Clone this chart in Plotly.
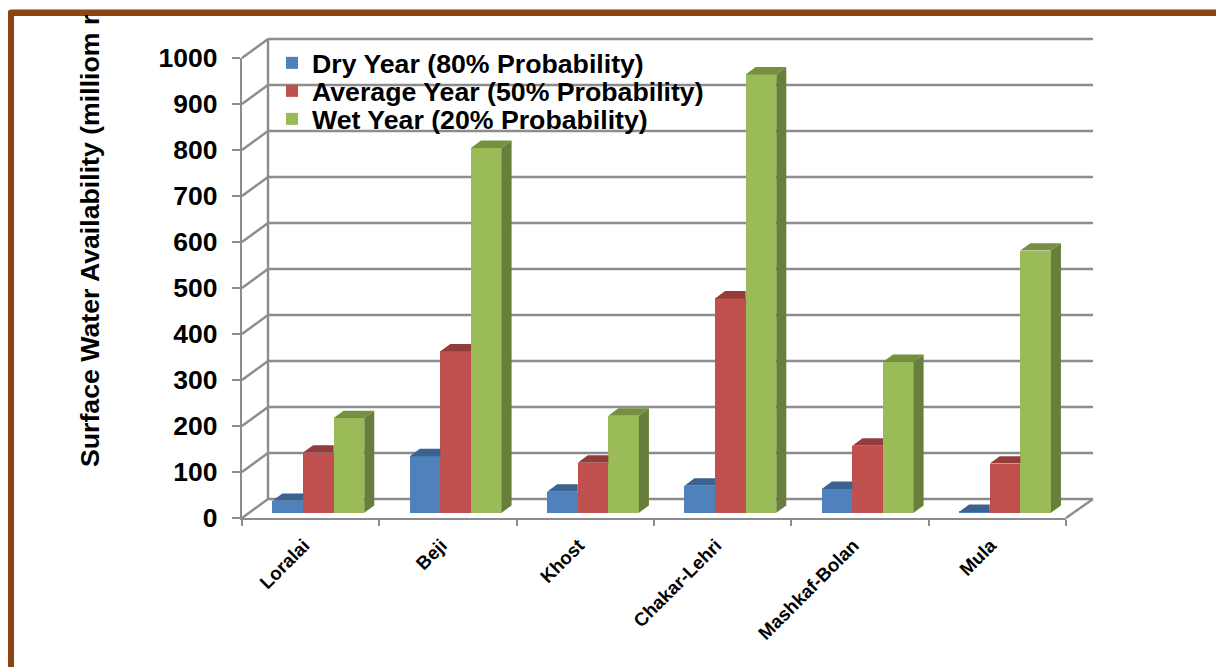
import plotly.graph_objects as go

categories = ["Loralai", "Beji", "Khost", "Chakar-Lehri", "Mashkaf-Bolan", "Mula"]
dry_year = [26, 123, 46, 59, 52, 2]
average_year = [131, 351, 109, 466, 146, 107]
wet_year = [206, 793, 211, 953, 328, 570]
y_ticks = list(range(0, 1001, 100))

W, H = 1216, 667
FONT = "Liberation Sans"

series = [
    ("Dry Year (80% Probability)", dry_year, "#4F81BD", "#3B6291", "#3B6291", "legend", 39),
    ("Average Year (50% Probability)", average_year, "#C0504D", "#943C3A", "#943C3A", "legend2", 67),
    ("Wet Year (20% Probability)", wet_year, "#9BBB59", "#768F41", "#677F3A", "legend3", 95),
]

# pixel geometry of the pseudo-3D frame
FRONT_L, FRONT_R, FRONT_0, FRONT_1000 = 242.0, 1066.0, 518.0, 58.0
BACK_L, BACK_R, BACK_0 = 268.0, 1093.0, 499.0
BAR_0 = 512.8
PX_PER_UNIT_Y = (FRONT_0 - FRONT_1000) / 1000.0
PX_PER_CAT = (FRONT_R - FRONT_L) / 6.0
CAT0_PX = FRONT_L + PX_PER_CAT / 2.0

# hidden overlay axes span the full page; bars are placed in data units
x2_range = [(0 - CAT0_PX) / PX_PER_CAT, (W - CAT0_PX) / PX_PER_CAT]
y2_range = [-(H - BAR_0) / PX_PER_UNIT_Y, BAR_0 / PX_PER_UNIT_Y]


def xu(px):
    return (px - CAT0_PX) / PX_PER_CAT


def yu(px_offset_above_bar_base):
    return px_offset_above_bar_base / PX_PER_UNIT_Y


BAR_W = 30.6 / PX_PER_CAT
GROUP_SHIFT = 7.7 / PX_PER_CAT
DX = 10.0 / PX_PER_CAT
DY = yu(7.4)
LABEL_SHIFT = -6.5 / PX_PER_CAT

fig = go.Figure()
# anchor trace for the visible axes
fig.add_trace(go.Scatter(x=[0], y=[0], mode="markers", marker=dict(opacity=0),
                         showlegend=False, hoverinfo="skip", xaxis="x", yaxis="y"))

for s, (name, vals, col, top, side, leg, _) in enumerate(series):
    xs = [i + GROUP_SHIFT + (s - 1) * BAR_W for i in range(len(categories))]
    fig.add_trace(go.Bar(x=xs, y=vals, width=BAR_W, name=name, legend=leg,
                         marker=dict(color=col, line=dict(width=0)),
                         xaxis="x2", yaxis="y2"))

for s, (name, vals, col, top, side, leg, _) in enumerate(series):
    nxt = series[s + 1][1] if s + 1 < len(series) else None
    for i, v in enumerate(vals):
        xc = i + GROUP_SHIFT + (s - 1) * BAR_W
        x0, x1 = xc - BAR_W / 2, xc + BAR_W / 2
        if nxt is not None and nxt[i] >= v:
            px, py = [x0, x1, x1, x0 + DX, x0], [v, v, v + DY, v + DY, v]
        else:
            px, py = [x0, x1, x1 + DX, x0 + DX, x0], [v, v, v + DY, v + DY, v]
        fig.add_trace(go.Scatter(x=px, y=py, fill="toself", fillcolor=top, mode="lines",
                                 line=dict(width=0, color=top), showlegend=False, hoverinfo="skip",
                                 xaxis="x2", yaxis="y2"))
        if nxt is None:
            fig.add_trace(go.Scatter(x=[x1, x1 + DX, x1 + DX, x1, x1], y=[0, DY, v + DY, v, 0],
                                     fill="toself", fillcolor=side, mode="lines",
                                     line=dict(width=0, color=side), showlegend=False, hoverinfo="skip",
                                     xaxis="x2", yaxis="y2"))

GRID = "#8C8C8C"
shapes = []


def seg(x0, y0, x1, y1):
    shapes.append(dict(type="line", xref="x2", yref="y2", x0=x0, y0=y0, x1=x1, y1=y1,
                       line=dict(color=GRID, width=2.4), layer="below"))


back_off = yu(BAR_0 - BACK_0)
front_off = yu(BAR_0 - FRONT_0)
for t in y_ticks:
    seg(xu(BACK_L), t + back_off, xu(BACK_R), t + back_off)
    seg(xu(FRONT_L), t + front_off, xu(BACK_L), t + back_off)
seg(xu(BACK_L), back_off, xu(BACK_L), 1000 + back_off)
seg(xu(FRONT_R), front_off, xu(BACK_R), back_off)

# brown frame
BROWN = "#8A4510"
shapes.append(dict(type="path", xref="paper", yref="paper",
                   path=f"M {8/W} {1-668/H} L {8/W} {1-12/H} Q {8/W} {1-9.5/H} {11/W} {1-9.5/H} "
                        f"L {1217/W} {1-9.5/H} L {1217/W} {1-16/H} L {14/W} {1-16/H} L {14/W} {1-668/H} Z",
                   fillcolor=BROWN, line=dict(width=0), layer="above"))

bold = dict(family=FONT, color="black", weight=700)


def legend_at(top_px):
    return dict(x=272 / W, y=1 - top_px / H, xanchor="left", yanchor="top", bgcolor="rgba(0,0,0,0)",
                font=dict(size=26.7, **bold), itemclick=False, itemdoubleclick=False)


fig.update_layout(
    width=W, height=H, autosize=False,
    margin=dict(l=0, r=0, t=0, b=0, pad=0, autoexpand=False),
    paper_bgcolor="white", plot_bgcolor="rgba(0,0,0,0)",
    barmode="overlay", bargap=0,
    shapes=shapes,
    showlegend=True,
    legend=legend_at(series[0][6]),
    legend2=legend_at(series[1][6]),
    legend3=legend_at(series[2][6]),
    xaxis=dict(domain=[FRONT_L / W, FRONT_R / W], range=[-0.5, 5.5], anchor="y",
               tickmode="array", tickvals=[i + LABEL_SHIFT for i in range(len(categories))], ticktext=categories,
               tickangle=-45, tickfont=dict(size=18.7, **bold), ticks="outside", ticklen=6,
               tickcolor="rgba(0,0,0,0)", ticklabelstandoff=1,
               minor=dict(tickmode="array", tickvals=[i - 0.5 for i in range(len(categories) + 1)],
                          ticks="outside", ticklen=6, tickcolor=GRID, tickwidth=2, showgrid=False),
               showline=True, linecolor=GRID, linewidth=2.4, showgrid=False, zeroline=False),
    yaxis=dict(domain=[1 - FRONT_0 / H, 1 - FRONT_1000 / H], range=[0, 1000], anchor="x",
               tickmode="array", tickvals=y_ticks, tickfont=dict(size=26.5, **bold),
               ticks="outside", ticklen=8, tickcolor=GRID, tickwidth=2, ticklabelstandoff=9,
               showline=True, linecolor=GRID, linewidth=2.4, showgrid=False, zeroline=False),
    xaxis2=dict(domain=[0, 1], range=x2_range, anchor="y2", visible=False),
    yaxis2=dict(domain=[0, 1], range=y2_range, anchor="x2", visible=False),
    annotations=[dict(text="Surface Water Availability (milliom r", xref="paper", yref="paper",
                      x=90 / W, y=1 - 469 / H, xanchor="center", yanchor="bottom", textangle=-90,
                      showarrow=False, font=dict(size=26.7, **bold))],
)

fig.write_html("out.html", config=dict(displayModeBar=False),
               post_script="document.body.style.margin='0';")
